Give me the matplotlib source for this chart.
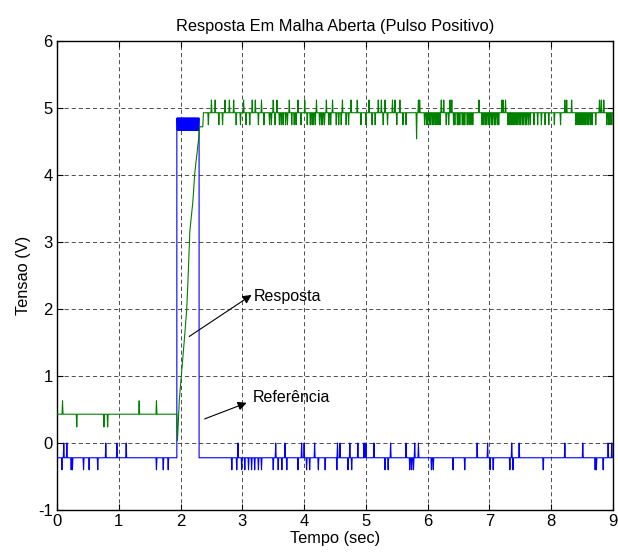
import numpy as np
import matplotlib
matplotlib.use("Agg")
import matplotlib.pyplot as plt

plt.rcParams['font.family'] = ['Liberation Sans', 'DejaVu Sans']
plt.rcParams['axes.unicode_minus'] = False

# ---------------- data ----------------
# reference (blue)
ref_low = -0.22
ref_up = 0.0
ref_dn = -0.40
ref_high = 4.85
ref_high_dn = 4.67
t_rise = 1.94
t_fall = 2.30
ref_up_before = [0.11, 0.16, 0.79, 0.97, 1.12]
ref_dn_before = [0.08, 0.23, 0.25, 0.43, 0.52, 0.66, 1.61, 1.72, 1.80]
ref_dn_high = [1.95, 1.96, 1.97, 1.98, 1.99, 2.00, 2.01, 2.02, 2.03, 2.04, 2.05,
               2.06, 2.07, 2.08, 2.09, 2.10, 2.11, 2.12, 2.13, 2.14, 2.15, 2.16,
               2.17, 2.18, 2.19, 2.20, 2.21, 2.22, 2.23, 2.24, 2.25, 2.26, 2.27,
               2.28, 2.29]
ref_up_after = [2.93, 3.54, 3.69, 3.96, 4.00, 4.17, 4.54, 4.58, 4.74, 4.87, 4.97,
                5.00, 5.13, 5.40, 5.65, 5.79, 5.85, 6.80, 6.97, 7.36, 7.48, 8.22,
                8.51, 8.92, 8.98]
ref_dn_after = [2.83, 2.91, 2.99, 3.04, 3.10, 3.15, 3.20, 3.26, 3.31, 3.50, 3.58,
                3.64, 3.72, 3.90, 4.04, 4.09, 4.23, 4.34, 4.53, 4.71, 4.77, 5.31,
                5.36, 5.71, 5.74, 5.77, 6.06, 6.09, 6.41, 6.60, 7.01, 7.06, 7.33,
                7.38, 7.87, 8.71, 8.73, 8.84]

# response (green)
resp_low = 0.43
resp_up_lvl = 0.63
resp_dn_lvl = 0.24
resp_up_before = [0.09, 1.33, 1.61]
resp_dn_before = [0.32, 0.76, 0.82]
ramp_t = [1.94, 1.95, 1.98, 2.03, 2.07, 2.10, 2.12, 2.15, 2.20, 2.23, 2.29, 2.31, 2.36, 2.37]
ramp_v = [0.43, 0.04, 0.64, 1.19, 1.64, 2.00, 2.42, 3.16, 3.61, 4.03, 4.52, 4.72, 4.72, 4.93]
resp_high = 4.93
resp_hi_up = 5.12
resp_hi_dn = 4.75
resp_up_after = [2.50, 2.56, 2.72, 2.79, 2.86, 3.02, 3.16, 3.21, 3.31, 3.50, 3.56,
                 3.76, 3.90, 4.01, 4.20, 4.36, 4.46, 4.62, 4.76, 4.86, 5.05, 5.20,
                 5.25, 5.31, 5.43, 5.47, 5.55, 5.85, 5.87, 6.22, 6.26, 6.36, 6.39,
                 6.83, 7.20, 7.22, 7.26, 8.22, 8.25, 8.33, 8.78, 8.81, 8.85]
resp_dn_after = [2.45, 2.62, 2.68, 2.90, 2.97, 3.06, 3.12, 3.26, 3.35, 3.44, 3.47,
                 3.53, 3.60, 3.63, 3.66, 3.70, 3.73, 3.80, 3.84, 3.87, 3.95, 4.05,
                 4.10, 4.13, 4.15, 4.18, 4.25, 4.28, 4.30, 4.33, 4.40, 4.43, 4.52,
                 4.56, 4.60, 4.68, 4.72, 4.92, 5.00, 5.10, 5.15, 5.28, 5.35, 5.50,
                 5.60, 5.65, 5.95, 5.98, 6.00, 6.03, 6.05, 6.08, 6.10, 6.13, 6.15,
                 6.18, 6.20, 6.30, 6.34, 6.42, 6.44, 6.48, 6.50, 6.52, 6.56, 6.58,
                 6.60, 6.64, 6.67, 6.70, 6.73, 6.88, 6.90, 6.93, 6.95, 6.98, 7.00,
                 7.03, 7.05, 7.08, 7.10, 7.13, 7.15, 7.30, 7.33, 7.35, 7.38, 7.40,
                 7.43, 7.45, 7.48, 7.50, 7.53, 7.55, 7.58, 7.60, 7.63, 7.66, 7.72,
                 7.78, 7.84, 7.90, 7.96, 8.05, 8.15, 8.40, 8.43, 8.45, 8.48, 8.50,
                 8.53, 8.55, 8.58, 8.60, 8.63, 8.66, 8.72, 8.90, 8.93, 8.95, 8.98]
resp_dip_t = 5.82
resp_dip_v = 4.54

t_end = 9.0


def spikes(t0, t1, base, spk, w=0.008):
    """polyline along base with narrow spikes; spk = list of (time, level)"""
    xs = [t0]
    ys = [base]
    for s, lv in sorted(spk):
        xs += [s - w, s, s + w]
        ys += [base, lv, base]
    xs.append(t1)
    ys.append(base)
    return xs, ys


# blue: reference
bx1, by1 = spikes(0, t_rise, ref_low,
                  [(s, ref_up) for s in ref_up_before] + [(s, ref_dn) for s in ref_dn_before])
bx2, by2 = spikes(t_rise, t_fall, ref_high, [(s, ref_high_dn) for s in ref_dn_high], w=0.004)
bx3, by3 = spikes(t_fall, t_end, ref_low,
                  [(s, ref_up) for s in ref_up_after] + [(s, ref_dn) for s in ref_dn_after])
ref_x = bx1 + bx2 + bx3
ref_y = by1 + by2 + by3

# green: response
gx1, gy1 = spikes(0, ramp_t[0], resp_low,
                  [(s, resp_up_lvl) for s in resp_up_before] + [(s, resp_dn_lvl) for s in resp_dn_before])
gx3, gy3 = spikes(ramp_t[-1], t_end, resp_high,
                  [(s, resp_hi_up) for s in resp_up_after] + [(s, resp_hi_dn) for s in resp_dn_after]
                  + [(resp_dip_t, resp_dip_v)])
resp_x = gx1 + ramp_t + gx3
resp_y = gy1 + ramp_v + gy3

# ---------------- figure ----------------
fig = plt.figure(figsize=(6.18, 5.56), dpi=100)
ax = fig.add_axes([0.0922, 0.0827, 0.8998, 0.8435])

ax.plot(ref_x, ref_y, color='#0000ff', lw=0.8, zorder=3)
ax.plot(resp_x, resp_y, color='#008000', lw=0.8, zorder=3)

ax.set_xlim(0, 9)
ax.set_ylim(-1, 6)
ax.set_xticks(range(0, 10))
ax.set_yticks(range(-1, 7))
ax.grid(True, color='#333333', linestyle=(0, (5, 3.5)), lw=0.6)
ax.set_axisbelow(True)
ax.tick_params(direction='in', top=True, right=True, labelsize=12, length=4, pad=3)
for sp in ax.spines.values():
    sp.set_linewidth(1.0)

ax.set_title('Resposta Em Malha Aberta (Pulso Positivo)', fontsize=11.8, pad=7)
ax.set_xlabel('Tempo (sec)', fontsize=11.8, labelpad=1)
ax.set_ylabel('Tensao (V)', fontsize=11.8, labelpad=5)

arr = dict(arrowstyle='-|>', color='k', lw=0.8, mutation_scale=13, shrinkA=0, shrinkB=0)
ax.annotate('', xy=(3.15, 2.21), xytext=(2.14, 1.59), arrowprops=arr)
ax.annotate('', xy=(3.07, 0.60), xytext=(2.39, 0.36), arrowprops=arr)
ax.text(3.18, 2.19, 'Resposta', fontsize=11.5, va='center', ha='left')
ax.text(3.17, 0.68, 'Referência', fontsize=11.5, va='center', ha='left')

fig.savefig('out.png', dpi=100)
